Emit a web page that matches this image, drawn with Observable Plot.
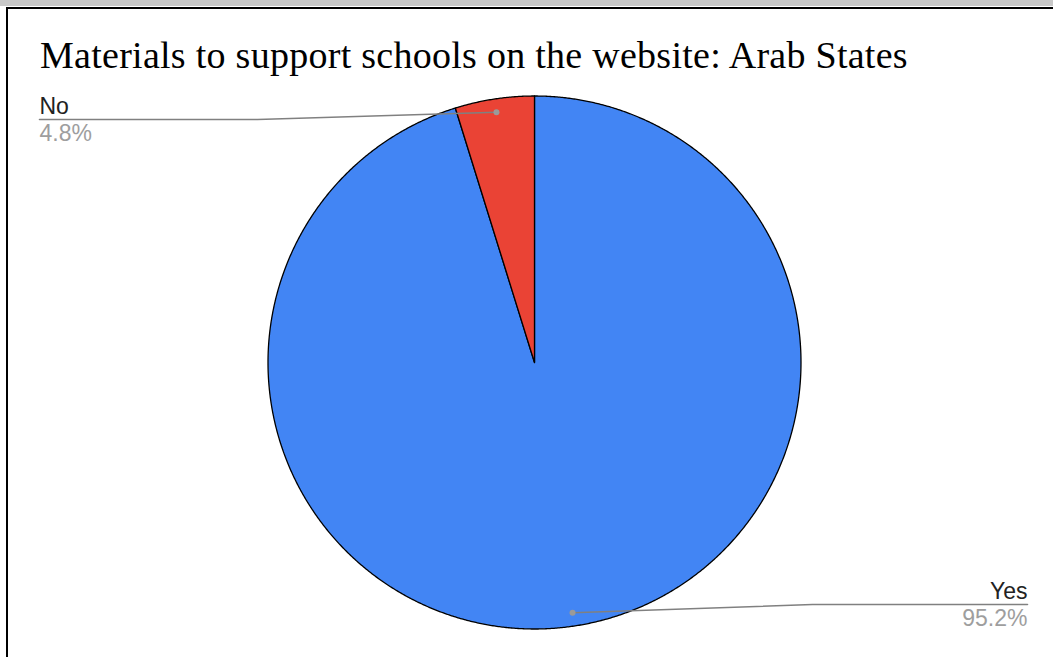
<!DOCTYPE html>
<html><head><meta charset="utf-8">
<script src="https://cdn.jsdelivr.net/npm/d3@7"></script>
<script src="https://cdn.jsdelivr.net/npm/@observablehq/plot@0.6"></script>
<style>
html,body{margin:0;padding:0;background:#fff;}
#page{position:relative;width:1053px;height:657px;overflow:hidden;background:#fff;}
#band{position:absolute;left:0;top:0;width:1053px;height:6px;background:#c8c8c8;}
#frame{position:absolute;left:6px;top:7px;width:1100px;height:700px;border-top:2.5px solid #000;border-left:2.5px solid #000;box-sizing:border-box;}
#title{position:absolute;left:40px;top:36px;font-family:"Liberation Serif","Times New Roman",serif;font-size:38px;line-height:38px;letter-spacing:0.27px;color:#000;white-space:nowrap;}
#chart{position:absolute;left:0;top:85px;}
</style></head><body>
<div id="page"><div id="band"></div><div id="frame"></div><div id="title"></div><div id="chart"></div></div>
<script>
const titleText = "Materials to support schools on the website: Arab States";
const categories = ["Yes", "No"];
const values = [95.2, 4.8];
const percentLabels = ["95.2%", "4.8%"];
const colors = ["#4285f4", "#ea4335"];

document.getElementById("title").textContent = titleText;

const W = 1053, H = 572, cx = 534, cy = 277, R = 266.5;
const X = px => (px - cx) / R;
const Y = py => (cy - py) / R;

const data = categories.map((c, i) => ({cat: c, value: values[i], pct: percentLabels[i]}));
const arcs = d3.pie().sort(null).value(d => d.value)(data);

const slicePts = [];
arcs.forEach(a => {
  const n = Math.max(2, Math.ceil((a.endAngle - a.startAngle) / 0.005));
  slicePts.push({cat: a.data.cat, x: 0, y: 0});
  for (let i = 0; i <= n; i++) {
    const ang = a.startAngle + (a.endAngle - a.startAngle) * i / n;
    slicePts.push({cat: a.data.cat, x: Math.sin(ang), y: Math.cos(ang)});
  }
  slicePts.push({cat: a.data.cat, x: 0, y: 0});
});

// label layout (pixel positions inside the svg)
const layout = {
  "Yes": {anchor: "end", tx: 1027, nameY: 513, lineY: 519, pctY: 540, elbowX: 812},
  "No":  {anchor: "start", tx: 39, nameY: 28, lineY: 34, pctY: 55, elbowX: 257}
};

const dots = [], leaders = [], labels = [];
arcs.forEach(a => {
  const mid = (a.startAngle + a.endAngle) / 2;
  const L = layout[a.data.cat];
  const d = {cat: a.data.cat, x: 0.95 * Math.sin(mid), y: 0.95 * Math.cos(mid)};
  dots.push(d);
  leaders.push(d);
  leaders.push({cat: a.data.cat, x: X(L.elbowX), y: Y(L.lineY)});
  leaders.push({cat: a.data.cat, x: X(L.tx), y: Y(L.lineY)});
  labels.push({cat: a.data.cat, pct: a.data.pct, anchor: L.anchor, x: X(L.tx), yName: Y(L.nameY), yPct: Y(L.pctY)});
});

const font = "Liberation Sans, Arial, sans-serif";
const chart = Plot.plot({
  width: W, height: H, margin: 0,
  style: {background: "none", overflow: "visible"},
  x: {domain: [X(0), X(W)], axis: null},
  y: {domain: [Y(H), Y(0)], axis: null},
  color: {domain: categories, range: colors},
  marks: [
    Plot.line(slicePts, {x: "x", y: "y", z: "cat", fill: "cat", stroke: "#000", strokeWidth: 1.3, strokeLinejoin: "round", curve: "linear"}),
    Plot.line(leaders, {x: "x", y: "y", z: "cat", stroke: "#808080", strokeWidth: 1.6, curve: "linear"}),
    Plot.dot(dots, {x: "x", y: "y", r: 3, fill: "#9a9a9a", stroke: null}),
    Plot.text(labels.filter(d => d.anchor === "start"), {x: "x", y: "yName", text: "cat", textAnchor: "start", lineAnchor: "bottom", fill: "#222", fontSize: 23, fontFamily: font}),
    Plot.text(labels.filter(d => d.anchor === "end"), {x: "x", y: "yName", text: "cat", textAnchor: "end", lineAnchor: "bottom", fill: "#222", fontSize: 23, fontFamily: font}),
    Plot.text(labels.filter(d => d.anchor === "start"), {x: "x", y: "yPct", text: "pct", textAnchor: "start", lineAnchor: "bottom", fill: "#9e9e9e", fontSize: 23, fontFamily: font}),
    Plot.text(labels.filter(d => d.anchor === "end"), {x: "x", y: "yPct", text: "pct", textAnchor: "end", lineAnchor: "bottom", fill: "#9e9e9e", fontSize: 23, fontFamily: font})
  ]
});
document.getElementById("chart").appendChild(chart);
</script>
</body></html>
